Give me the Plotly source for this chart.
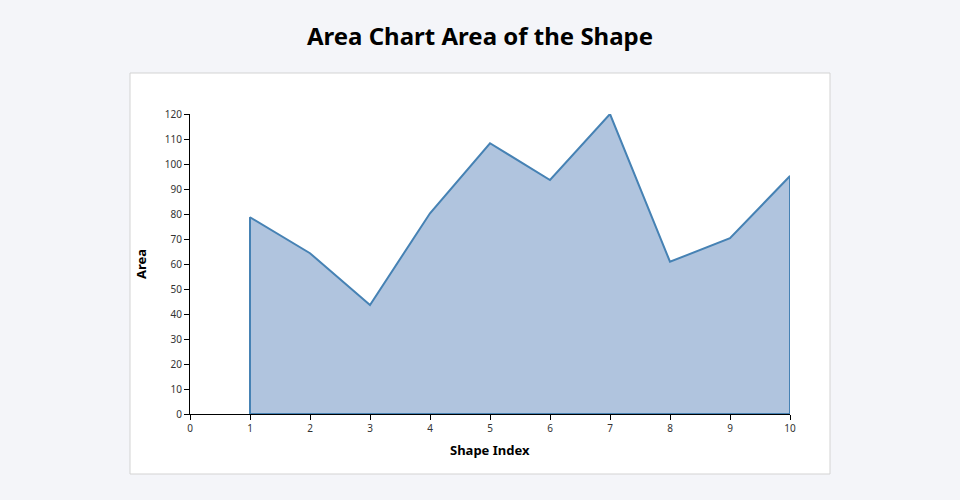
import plotly.graph_objects as go

shape_index = [1, 2, 3, 4, 5, 6, 7, 8, 9, 10]
area = [78.7, 64.3, 43.6, 80.3, 108.3, 93.6, 120.0, 60.9, 70.3, 95.2]

title_text = "Area Chart Area of the Shape"
x_title = "Shape Index"
y_title = "Area"

# closed polygon: baseline -> data -> baseline
xs = [shape_index[0]] + shape_index + [shape_index[-1], shape_index[0]]
ys = [0] + area + [0, 0]

fig = go.Figure()
fig.add_trace(go.Scatter(
    x=xs, y=ys, mode="lines", fill="toself",
    fillcolor="#b0c4de", line=dict(color="#4682b4", width=2),
    hoverinfo="skip", showlegend=False,
))

L, R, T, B = 190, 170, 114, 86
W, H = 960, 500
pw, ph = W - L - R, H - T - B

def px_x(x):
    return (x - L) / pw

def px_y(y):
    return (H - B - y) / ph

fig.add_shape(type="rect", xref="paper", yref="paper",
              x0=px_x(130), x1=px_x(830), y0=px_y(474), y1=px_y(73),
              fillcolor="white", line=dict(color="#d3d3d3", width=1), layer="below")

fig.update_layout(
    width=W, height=H,
    margin=dict(l=L, r=R, t=T, b=B),
    paper_bgcolor="#f4f5f9", plot_bgcolor="white",
    font=dict(family="Noto Sans", color="#222"),
    title=dict(text="<b>" + title_text + "</b>", x=0.5, xref="container", xanchor="center",
               y=1 - 37 / H, yanchor="middle", yref="container",
               font=dict(size=24, color="black", family="Noto Sans")),
    xaxis=dict(range=[0, 10], dtick=1, tick0=0, showgrid=False, zeroline=False,
               showline=True, linecolor="black", linewidth=1,
               ticks="outside", ticklen=5, tickcolor="black",
               tickfont=dict(size=10, color="#333")),
    yaxis=dict(range=[0, 120], dtick=10, tick0=0, showgrid=False, zeroline=False,
               showline=True, linecolor="black", linewidth=1,
               ticks="outside", ticklen=5, tickcolor="black",
               tickfont=dict(size=10, color="#333")),
    annotations=[
        dict(text="<b>" + x_title + "</b>", xref="paper", yref="paper",
             x=0.5, y=px_y(450), xanchor="center", yanchor="middle",
             showarrow=False, font=dict(size=13, color="black")),
        dict(text="<b>" + y_title + "</b>", xref="paper", yref="paper",
             x=px_x(141), y=0.5, xanchor="center", yanchor="middle",
             textangle=-90, showarrow=False, font=dict(size=13, color="black")),
    ],
)

fig.write_html("out.html", config={"displayModeBar": False},
               post_script="document.body.style.margin='0';document.body.style.background='#f4f5f9';")
